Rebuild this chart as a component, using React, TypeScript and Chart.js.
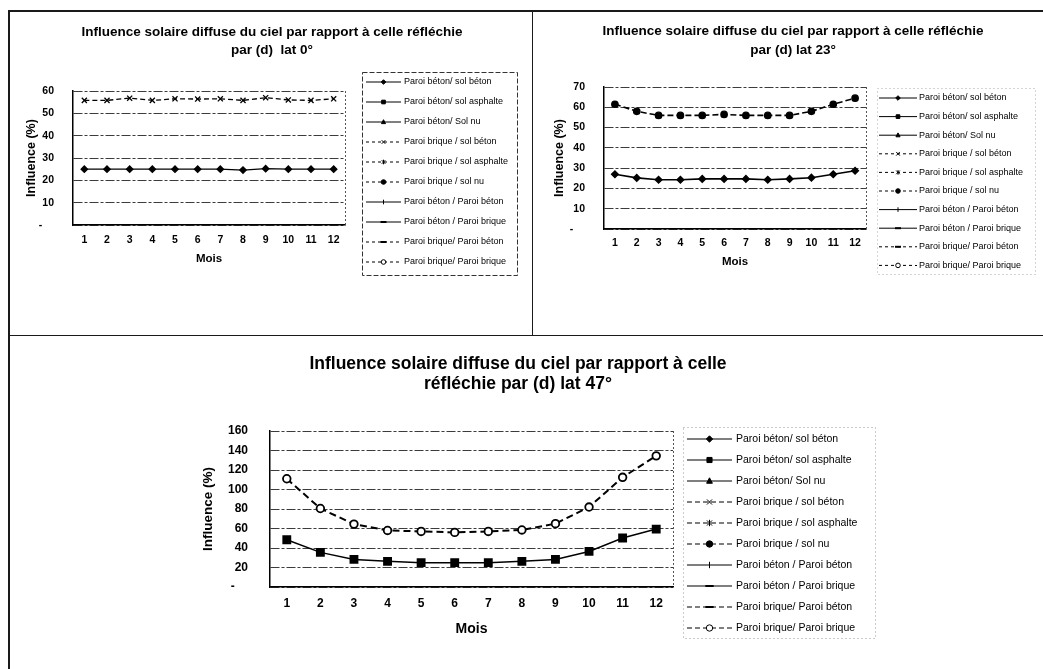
import React, { useEffect, useRef } from 'react';
import { Chart, registerables } from 'chart.js';

Chart.register(...registerables);
Chart.defaults.font.family = "'Liberation Sans', Arial, Helvetica, sans-serif";
Chart.defaults.color = '#000';

// ---------- data ----------
const MONTHS = ['1', '2', '3', '4', '5', '6', '7', '8', '9', '10', '11', '12'];

const SERIES_LABELS = [
  'Paroi béton/ sol béton',
  'Paroi béton/ sol asphalte',
  'Paroi béton/ Sol nu',
  'Paroi brique / sol béton',
  'Paroi brique / sol asphalte',
  'Paroi brique / sol nu',
  'Paroi béton / Paroi béton',
  'Paroi béton / Paroi brique',
  'Paroi brique/ Paroi béton',
  'Paroi brique/ Paroi brique',
];

const TITLE_LAT0 = ['Influence solaire diffuse du ciel par rapport à celle réfléchie', 'par (d)  lat 0°'];
const TITLE_LAT23 = ['Influence solaire diffuse du ciel par rapport à celle réfléchie', 'par (d) lat 23°'];
const TITLE_LAT47 = ['Influence solaire diffuse du ciel par rapport à celle', 'réfléchie par (d) lat 47°'];
const X_TITLE = 'Mois';
const Y_TITLE = 'Influence (%)';

const LAT0_BETON = [25, 25, 25, 25, 25, 25, 25, 24.6, 25.2, 25, 25, 25];
const LAT0_BRIQUE = [55.8, 55.8, 56.8, 55.8, 56.5, 56.4, 56.5, 55.8, 57, 56, 55.8, 56.5];

const LAT23_BETON = [27, 25.2, 24.3, 24.3, 24.7, 24.7, 24.7, 24.3, 24.7, 25.3, 27, 28.7];
const LAT23_BRIQUE = [61.5, 58, 56, 56, 56, 56.5, 56, 56, 56, 58, 61.5, 64.5];

const LAT47_BETON = [48.5, 35.5, 28.3, 26.3, 25, 25, 25, 26.3, 28.3, 36.5, 50.2, 59.4];
const LAT47_BRIQUE = [111, 80.5, 64.5, 58, 57, 56, 57, 58.5, 65, 82, 112.5, 134.5];

const LAT0_Y_RANGE = [0, 60, 10];
const LAT23_Y_RANGE = [0, 70, 10];
const LAT47_Y_RANGE = [0, 160, 20];

// ---------- series styles ----------
const SERIES_DASHED = [false, false, false, true, true, true, false, false, true, true];
const SERIES_MARKER = ['rectRot', 'rect', 'triangle', 'crossRot', 'star', 'circle', 'cross', 'line', 'line', 'circle'];
const SERIES_HOLLOW = [false, false, false, false, false, false, false, false, false, true];

function drawMarker(ctx: CanvasRenderingContext2D, style: string, x: number, y: number, r: number, hollow: boolean, lw: number) {
  ctx.save();
  ctx.setLineDash([]);
  ctx.fillStyle = hollow ? '#fff' : '#000';
  ctx.strokeStyle = '#000';
  ctx.lineWidth = lw;
  ctx.beginPath();
  switch (style) {
    case 'rectRot':
      ctx.moveTo(x, y - r); ctx.lineTo(x + r, y); ctx.lineTo(x, y + r); ctx.lineTo(x - r, y); ctx.closePath();
      ctx.fill(); ctx.stroke(); break;
    case 'rect': {
      const s = r * 0.8;
      ctx.rect(x - s, y - s, 2 * s, 2 * s); ctx.fill(); ctx.stroke(); break;
    }
    case 'triangle':
      ctx.moveTo(x, y - r); ctx.lineTo(x + r * 0.9, y + r * 0.7); ctx.lineTo(x - r * 0.9, y + r * 0.7); ctx.closePath();
      ctx.fill(); ctx.stroke(); break;
    case 'crossRot': {
      const s = r * 0.8;
      ctx.moveTo(x - s, y - s); ctx.lineTo(x + s, y + s); ctx.moveTo(x + s, y - s); ctx.lineTo(x - s, y + s); ctx.stroke(); break;
    }
    case 'star': {
      const s = r * 0.8;
      ctx.moveTo(x - s, y - s); ctx.lineTo(x + s, y + s); ctx.moveTo(x + s, y - s); ctx.lineTo(x - s, y + s);
      ctx.moveTo(x, y - r); ctx.lineTo(x, y + r); ctx.stroke(); break;
    }
    case 'cross':
      ctx.moveTo(x, y - r); ctx.lineTo(x, y + r); ctx.stroke(); break;
    case 'line':
      ctx.lineWidth = lw * 2; ctx.moveTo(x - r * 1.3, y); ctx.lineTo(x + r * 1.3, y); ctx.stroke(); break;
    default:
      ctx.arc(x, y, r, 0, Math.PI * 2); ctx.fill(); ctx.stroke();
  }
  ctx.restore();
}

const sideLegend = {
  id: 'sideLegend',
  beforeDatasetsDraw(chart: any) {
    const { ctx, chartArea } = chart;
    ctx.save();
    ctx.strokeStyle = '#555';
    ctx.lineWidth = 1;
    ctx.setLineDash([2, 2]);
    ctx.beginPath();
    ctx.moveTo(Math.round(chartArea.right) + 0.5, chartArea.top);
    ctx.lineTo(Math.round(chartArea.right) + 0.5, chartArea.bottom);
    ctx.stroke();
    ctx.restore();
  },
  afterDraw(chart: any, _a: any, o: any) {
    const ctx: CanvasRenderingContext2D = chart.ctx;
    ctx.save();
    ctx.strokeStyle = o.borderColor;
    ctx.lineWidth = 1;
    ctx.setLineDash(o.borderDash);
    ctx.strokeRect(o.bx + 0.5, o.by + 0.5, o.bw, o.bh);
    ctx.font = `${o.fontSize}px 'Liberation Sans', Arial, sans-serif`;
    ctx.textBaseline = 'middle';
    ctx.textAlign = 'left';
    ctx.fillStyle = '#000';
    chart.data.datasets.forEach((ds: any, i: number) => {
      const y = o.y0 + i * o.dy;
      ctx.save();
      ctx.strokeStyle = '#000';
      ctx.lineWidth = o.lineWidth;
      ctx.setLineDash(SERIES_DASHED[i] ? o.dash : []);
      ctx.beginPath();
      ctx.moveTo(o.x0, y);
      ctx.lineTo(o.x1, y);
      ctx.stroke();
      ctx.restore();
      drawMarker(ctx, SERIES_MARKER[i], (o.x0 + o.x1) / 2, y, o.markerR, SERIES_HOLLOW[i], 1);
      ctx.fillText(ds.label, o.tx, y);
    });
    ctx.restore();
  },
};

function buildConfig(p: any): any {
  const datasets = SERIES_LABELS.map((label, i) => {
    const dashed = SERIES_DASHED[i];
    const style = SERIES_MARKER[i];
    return {
      label,
      data: p.series[i] ? p.series[i] : [],
      borderColor: '#000',
      backgroundColor: '#000',
      borderWidth: dashed ? p.dashWidth : p.solidWidth,
      borderDash: dashed ? p.dash : [],
      pointStyle: style,
      pointRadius: p.radius[style] ?? 3,
      pointBackgroundColor: SERIES_HOLLOW[i] ? '#fff' : '#000',
      pointBorderColor: '#000',
      pointBorderWidth: p.pointBorderWidth,
      tension: 0,
      fill: false,
    };
  });
  const tickFont = { size: p.tickSize, weight: 'bold' as const };
  return {
    type: 'line',
    data: { labels: MONTHS, datasets },
    plugins: [sideLegend],
    options: {
      responsive: false,
      maintainAspectRatio: false,
      animation: false,
      events: [],
      layout: { padding: { left: p.padL, right: p.padR, top: 0, bottom: 0 } },
      plugins: {
        legend: { display: false },
        tooltip: { enabled: false },
        title: {
          display: true,
          text: p.title,
          color: '#000',
          font: { size: p.titleSize, weight: 'bold', lineHeight: `${p.titleLH}px` },
          padding: { top: p.titlePadTop, bottom: p.titlePadBottom },
        },
        sideLegend: p.legend,
      },
      scales: {
        x: {
          type: 'category',
          offset: true,
          grid: { display: false, drawTicks: false },
          border: { display: true, color: '#000', width: 1.5 },
          ticks: { font: tickFont, color: '#000', padding: p.xTickPad, maxRotation: 0, autoSkip: false },
          title: {
            display: true, text: X_TITLE, color: '#000',
            font: { size: p.xTitleSize, weight: 'bold' },
            padding: { top: 0, bottom: p.xTitlePadBottom },
          },
          afterFit(s: any) { s.height = p.xHeight; },
        },
        y: {
          type: 'linear',
          min: p.yRange[0],
          max: p.yRange[1],
          grid: { color: '#3c3c3c', lineWidth: 1, drawTicks: false },
          border: { display: true, color: '#000', width: 1.5, dash: [9, 2, 3, 2] },
          ticks: {
            stepSize: p.yRange[2],
            font: tickFont,
            color: '#000',
            padding: p.yTickPad,
            callback: (v: any) => (v === 0 ? '-    ' : String(v)),
          },
          title: {
            display: true, text: Y_TITLE, color: '#000',
            font: { size: p.yTitleSize, weight: 'bold' },
            padding: { top: p.yTitlePad, bottom: 0 },
          },
          afterFit(s: any) { s.width = p.yWidth; },
        },
        yr: {
          type: 'linear',
          position: 'right',
          display: true,
          min: 0,
          max: 1,
          grid: { display: false, drawTicks: false },
          border: { display: false },
          ticks: { display: false },
          afterFit(s: any) { s.width = p.rightWidth; },
        },
      },
    },
  };
}

const CHART_LAT0 = {
  left: 9, top: 11, width: 522, height: 323,
  title: TITLE_LAT0, titleSize: 13.5, titleLH: 18, titlePadTop: 12, titlePadBottom: 32,
  padL: 4, padR: 0, yWidth: 60, rightWidth: 186,
  yRange: LAT0_Y_RANGE, yTickPad: 19, tickSize: 10.5, yTitleSize: 12.5, yTitlePad: 11.5,
  xHeight: 109, xTickPad: 8.7, xTitleSize: 11.5, xTitlePadBottom: 68,
  series: [LAT0_BETON, null, null, LAT0_BRIQUE, null, null, null, null, null, null],
  solidWidth: 1.3, dashWidth: 1.3, dash: [5, 3], pointBorderWidth: 1.3,
  radius: { rectRot: 3.2, crossRot: 3.6 },
  legend: {
    bx: 353, by: 61, bw: 155, bh: 203, borderColor: '#333', borderDash: [5, 2],
    x0: 357, x1: 392, tx: 395, y0: 71, dy: 20, fontSize: 9, markerR: 2.3, lineWidth: 1, dash: [3, 3],
  },
};

const CHART_LAT23 = {
  left: 533, top: 11, width: 510, height: 324,
  title: TITLE_LAT23, titleSize: 13.5, titleLH: 19, titlePadTop: 10.5, titlePadBottom: 27.5,
  padL: 10, padR: 0, yWidth: 61, rightWidth: 177,
  yRange: LAT23_Y_RANGE, yTickPad: 19, tickSize: 10.5, yTitleSize: 12.5, yTitlePad: 9.5,
  xHeight: 106, xTickPad: 7.7, xTitleSize: 11.5, xTitlePadBottom: 66,
  series: [LAT23_BETON, null, null, null, null, LAT23_BRIQUE, null, null, null, null],
  solidWidth: 1.6, dashWidth: 1.6, dash: [6, 3], pointBorderWidth: 1.3,
  radius: { rectRot: 3.4, circle: 3.2 },
  legend: {
    bx: 344, by: 77, bw: 158, bh: 186, borderColor: '#aaa', borderDash: [1, 3],
    x0: 346, x1: 384, tx: 386, y0: 87, dy: 18.6, fontSize: 9, markerR: 2.3, lineWidth: 1, dash: [3, 3],
  },
};

const CHART_LAT47 = {
  left: 9, top: 336, width: 1034, height: 333,
  title: TITLE_LAT47, titleSize: 17.5, titleLH: 20, titlePadTop: 18, titlePadBottom: 37,
  padL: 0, padR: 16, yWidth: 261, rightWidth: 354,
  yRange: LAT47_Y_RANGE, yTickPad: 22, tickSize: 12, yTitleSize: 13.5, yTitlePad: 190.9,
  xHeight: 82, xTickPad: 9.8, xTitleSize: 14, xTitlePadBottom: 31.6,
  series: [null, LAT47_BETON, null, null, null, null, null, null, null, LAT47_BRIQUE],
  solidWidth: 1.5, dashWidth: 2, dash: [7, 4], pointBorderWidth: 1.8,
  radius: { rect: 5, circle: 3.8 },
  legend: {
    bx: 674, by: 91, bw: 192, bh: 211, borderColor: '#999', borderDash: [1, 3],
    x0: 678, x1: 723, tx: 727, y0: 103, dy: 21, fontSize: 10.5, markerR: 3.2, lineWidth: 1.2, dash: [5, 3],
  },
};

function Panel({ cfg }: { cfg: any }) {
  const ref = useRef<HTMLCanvasElement>(null);
  useEffect(() => {
    const chart = new Chart(ref.current as HTMLCanvasElement, buildConfig(cfg));
    return () => chart.destroy();
  }, [cfg]);
  return (
    <canvas
      ref={ref}
      width={cfg.width}
      height={cfg.height}
      style={{ position: 'absolute', left: cfg.left, top: cfg.top, width: cfg.width, height: cfg.height }}
    />
  );
}

const line = (l: number, t: number, w: number, h: number) => (
  <div style={{ position: 'absolute', left: l, top: t, width: w, height: h, background: '#1a1a1a' }} />
);

export default function App() {
  return (
    <div style={{ position: 'fixed', left: 0, top: 0, width: 1043, height: 669, background: '#fff', overflow: 'hidden' }}>
      {line(8, 10, 1035, 1.5)}
      {line(8, 10, 1.5, 659)}
      {line(8, 334.5, 1035, 1.5)}
      {line(531.5, 10, 1.5, 325)}
      <Panel cfg={CHART_LAT0} />
      <Panel cfg={CHART_LAT23} />
      <Panel cfg={CHART_LAT47} />
    </div>
  );
}
